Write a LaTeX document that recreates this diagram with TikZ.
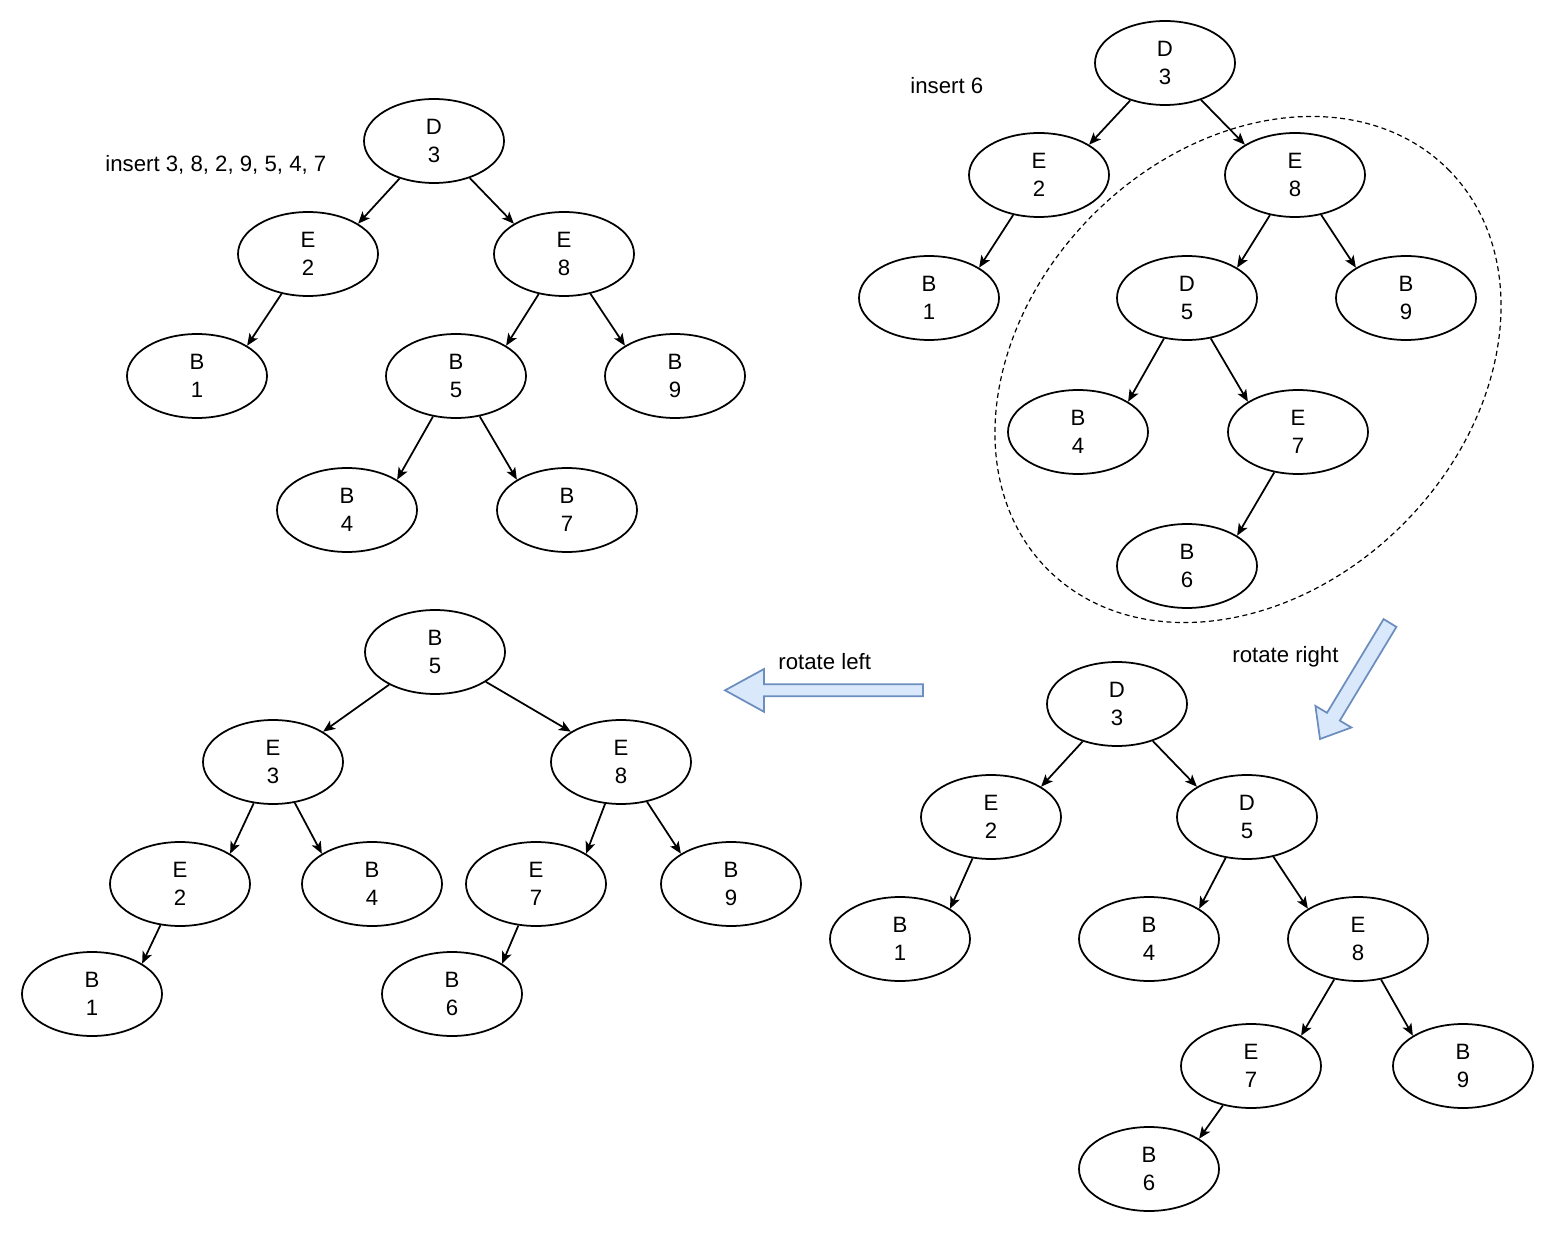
\documentclass[tikz,border=0pt]{standalone}
\usepackage{fontspec}
\setmainfont{Liberation Sans}
\usetikzlibrary{shapes.geometric,arrows.meta}
\definecolor{blfill}{HTML}{DAE8FC}
\definecolor{bldraw}{HTML}{6C8EBF}
\tikzset{
  tn/.style={draw, ellipse, minimum width=70pt, minimum height=42pt, inner sep=0pt,
    line width=0.875pt, align=center, font=\fontsize{11.1pt}{13.65pt}\selectfont},
  ed/.style={-{Stealth[length=6pt,width=5pt,inset=1.5pt]}, line width=0.875pt},
  lbl/.style={inner sep=0pt, font=\fontsize{11.1pt}{13.65pt}\selectfont},
  blockarrow/.style={fill=blfill, draw=bldraw, line width=0.875pt, line join=miter}
}
\begin{document}
\begin{tikzpicture}[x=0.5pt, y=-0.5pt]
\useasboundingbox (0,0) rectangle (1548,1235);

% ---------- Tree 1 ----------
\node[lbl, anchor=base west] (l1) at (105,172) {insert 3, 8, 2, 9, 5, 4, 7};
\node[tn] (a1) at (434,141) {D\\3};
\node[tn] (a2) at (308,254) {E\\2};
\node[tn] (a3) at (564,254) {E\\8};
\node[tn] (a4) at (197,376) {B\\1};
\node[tn] (a5) at (456,376) {B\\5};
\node[tn] (a6) at (675,376) {B\\9};
\node[tn] (a7) at (347,510) {B\\4};
\node[tn] (a8) at (567,510) {B\\7};
\draw[ed] (a1) -- (a2.north east);
\draw[ed] (a1) -- (a3.north west);
\draw[ed] (a2) -- (a4.north east);
\draw[ed] (a3) -- (a5.north east);
\draw[ed] (a3) -- (a6.north west);
\draw[ed] (a5) -- (a7.north east);
\draw[ed] (a5) -- (a8.north west);

% ---------- Tree 2 ----------
\node[lbl, anchor=base west] (l2) at (910,94) {insert 6};
\draw[dashed, dash pattern=on 2.5pt off 1.75pt, line width=0.6pt, rotate around={45:(1248,369.5)}]
  (1248,369.5) ellipse (283 and 219);
\node[tn] (b1) at (1165,63) {D\\3};
\node[tn] (b2) at (1039,175) {E\\2};
\node[tn] (b3) at (1295,175) {E\\8};
\node[tn] (b4) at (929,298) {B\\1};
\node[tn] (b5) at (1187,298) {D\\5};
\node[tn] (b6) at (1406,298) {B\\9};
\node[tn] (b7) at (1078,432) {B\\4};
\node[tn] (b8) at (1298,432) {E\\7};
\node[tn] (b9) at (1187,566) {B\\6};
\draw[ed] (b1) -- (b2.north east);
\draw[ed] (b1) -- (b3.north west);
\draw[ed] (b2) -- (b4.north east);
\draw[ed] (b3) -- (b5.north east);
\draw[ed] (b3) -- (b6.north west);
\draw[ed] (b5) -- (b7.north east);
\draw[ed] (b5) -- (b8.north west);
\draw[ed] (b8) -- (b9.north east);

% ---------- rotate right arrow ----------
\node[lbl, anchor=base west] (l3) at (1232,662) {rotate right};
\draw[blockarrow] (1383.6,619.1) -- (1396.4,626.9) -- (1339.8,720.6) -- (1351.4,727.5)
  -- (1320,739) -- (1315.4,705.9) -- (1327.0,712.8) -- cycle;

% ---------- Tree 3 ----------
\node[tn] (c1) at (1117,704) {D\\3};
\node[tn] (c2) at (991,817) {E\\2};
\node[tn] (c3) at (1247,817) {D\\5};
\node[tn] (c4) at (900,939) {B\\1};
\node[tn] (c5) at (1149,939) {B\\4};
\node[tn] (c6) at (1358,939) {E\\8};
\node[tn] (c7) at (1251,1066) {E\\7};
\node[tn] (c8) at (1463,1066) {B\\9};
\node[tn] (c9) at (1149,1169) {B\\6};
\draw[ed] (c1) -- (c2.north east);
\draw[ed] (c1) -- (c3.north west);
\draw[ed] (c2) -- (c4.north east);
\draw[ed] (c3) -- (c5.north east);
\draw[ed] (c3) -- (c6.north west);
\draw[ed] (c6) -- (c7.north east);
\draw[ed] (c6) -- (c8.north west);
\draw[ed] (c7) -- (c9.north east);

% ---------- rotate left arrow ----------
\node[lbl, anchor=base west] (l4) at (778,669) {rotate left};
\draw[blockarrow] (923,684.3) -- (764,684.3) -- (764,669) -- (725,690.3) -- (764,711.8)
  -- (764,696.3) -- (923,696.3) -- cycle;

% ---------- Tree 4 ----------
\node[tn] (d1) at (435,652) {B\\5};
\node[tn] (d2) at (273,762) {E\\3};
\node[tn] (d3) at (621,762) {E\\8};
\node[tn] (d4) at (180,884) {E\\2};
\node[tn] (d5) at (372,884) {B\\4};
\node[tn] (d6) at (536,884) {E\\7};
\node[tn] (d7) at (731,884) {B\\9};
\node[tn] (d8) at (92,994) {B\\1};
\node[tn] (d9) at (452,994) {B\\6};
\draw[ed] (d1) -- (d2.north east);
\draw[ed] (d1) -- (d3.north west);
\draw[ed] (d2) -- (d4.north east);
\draw[ed] (d2) -- (d5.north west);
\draw[ed] (d3) -- (d6.north east);
\draw[ed] (d3) -- (d7.north west);
\draw[ed] (d4) -- (d8.north east);
\draw[ed] (d6) -- (d9.north east);
\end{tikzpicture}
\end{document}
